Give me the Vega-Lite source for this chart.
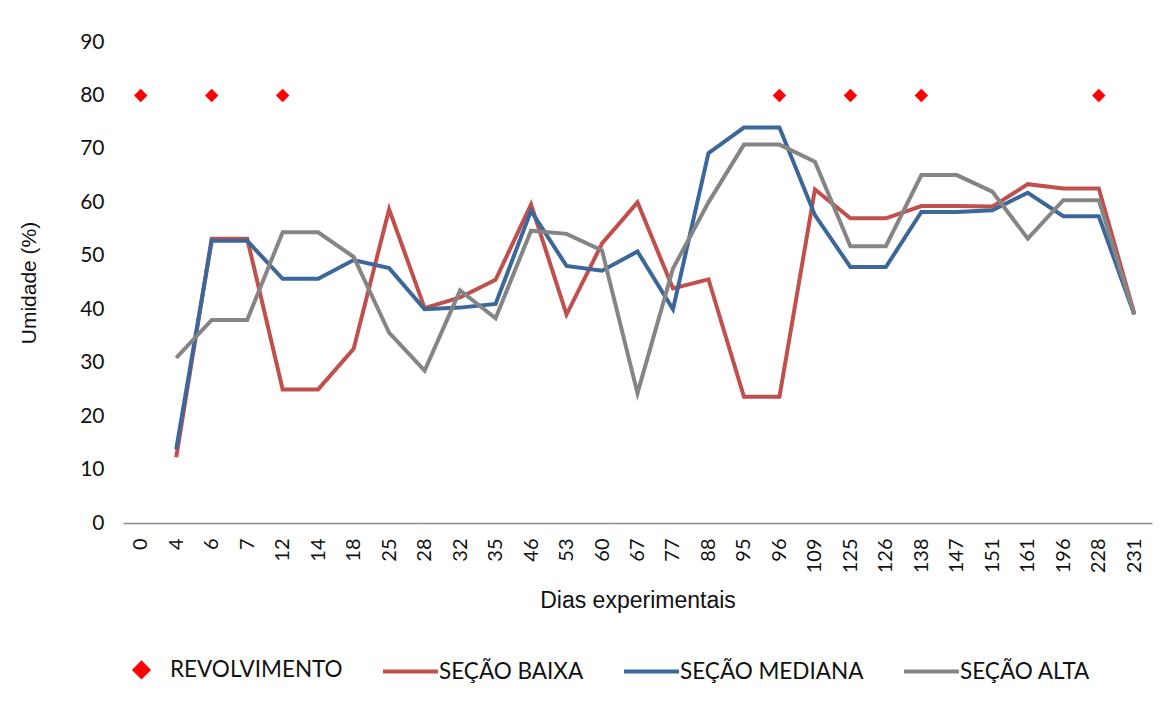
{
  "$schema": "https://vega.github.io/schema/vega-lite/v6.json",
  "autosize": "none",
  "width": 1029,
  "height": 481,
  "padding": {"left": 123, "top": 42, "right": 18, "bottom": 178},
  "background": "white",
  "config": {"view": {"stroke": null}, "font": "Lato"},
  "data": {
    "values": [
      {"dia": 0, "serie": "REVOLVIMENTO", "umidade": 80},
      {"dia": 6, "serie": "REVOLVIMENTO", "umidade": 80},
      {"dia": 12, "serie": "REVOLVIMENTO", "umidade": 80},
      {"dia": 96, "serie": "REVOLVIMENTO", "umidade": 80},
      {"dia": 125, "serie": "REVOLVIMENTO", "umidade": 80},
      {"dia": 138, "serie": "REVOLVIMENTO", "umidade": 80},
      {"dia": 228, "serie": "REVOLVIMENTO", "umidade": 80},

      {"dia": 4, "serie": "SEÇÃO BAIXA", "umidade": 12.3},
      {"dia": 6, "serie": "SEÇÃO BAIXA", "umidade": 53.2},
      {"dia": 7, "serie": "SEÇÃO BAIXA", "umidade": 53.2},
      {"dia": 12, "serie": "SEÇÃO BAIXA", "umidade": 25.0},
      {"dia": 14, "serie": "SEÇÃO BAIXA", "umidade": 25.0},
      {"dia": 18, "serie": "SEÇÃO BAIXA", "umidade": 32.6},
      {"dia": 25, "serie": "SEÇÃO BAIXA", "umidade": 58.7},
      {"dia": 28, "serie": "SEÇÃO BAIXA", "umidade": 40.2},
      {"dia": 32, "serie": "SEÇÃO BAIXA", "umidade": 42.2},
      {"dia": 35, "serie": "SEÇÃO BAIXA", "umidade": 45.5},
      {"dia": 46, "serie": "SEÇÃO BAIXA", "umidade": 59.6},
      {"dia": 53, "serie": "SEÇÃO BAIXA", "umidade": 39.0},
      {"dia": 60, "serie": "SEÇÃO BAIXA", "umidade": 52.3},
      {"dia": 67, "serie": "SEÇÃO BAIXA", "umidade": 60.0},
      {"dia": 77, "serie": "SEÇÃO BAIXA", "umidade": 43.9},
      {"dia": 88, "serie": "SEÇÃO BAIXA", "umidade": 45.6},
      {"dia": 95, "serie": "SEÇÃO BAIXA", "umidade": 23.6},
      {"dia": 96, "serie": "SEÇÃO BAIXA", "umidade": 23.6},
      {"dia": 109, "serie": "SEÇÃO BAIXA", "umidade": 62.4},
      {"dia": 125, "serie": "SEÇÃO BAIXA", "umidade": 57.0},
      {"dia": 126, "serie": "SEÇÃO BAIXA", "umidade": 57.0},
      {"dia": 138, "serie": "SEÇÃO BAIXA", "umidade": 59.3},
      {"dia": 147, "serie": "SEÇÃO BAIXA", "umidade": 59.3},
      {"dia": 151, "serie": "SEÇÃO BAIXA", "umidade": 59.2},
      {"dia": 161, "serie": "SEÇÃO BAIXA", "umidade": 63.4},
      {"dia": 196, "serie": "SEÇÃO BAIXA", "umidade": 62.6},
      {"dia": 228, "serie": "SEÇÃO BAIXA", "umidade": 62.6},
      {"dia": 231, "serie": "SEÇÃO BAIXA", "umidade": 39.2},

      {"dia": 4, "serie": "SEÇÃO MEDIANA", "umidade": 13.8},
      {"dia": 6, "serie": "SEÇÃO MEDIANA", "umidade": 52.8},
      {"dia": 7, "serie": "SEÇÃO MEDIANA", "umidade": 52.8},
      {"dia": 12, "serie": "SEÇÃO MEDIANA", "umidade": 45.7},
      {"dia": 14, "serie": "SEÇÃO MEDIANA", "umidade": 45.7},
      {"dia": 18, "serie": "SEÇÃO MEDIANA", "umidade": 49.2},
      {"dia": 25, "serie": "SEÇÃO MEDIANA", "umidade": 47.7},
      {"dia": 28, "serie": "SEÇÃO MEDIANA", "umidade": 40.0},
      {"dia": 32, "serie": "SEÇÃO MEDIANA", "umidade": 40.3},
      {"dia": 35, "serie": "SEÇÃO MEDIANA", "umidade": 41.0},
      {"dia": 46, "serie": "SEÇÃO MEDIANA", "umidade": 58.4},
      {"dia": 53, "serie": "SEÇÃO MEDIANA", "umidade": 48.1},
      {"dia": 60, "serie": "SEÇÃO MEDIANA", "umidade": 47.2},
      {"dia": 67, "serie": "SEÇÃO MEDIANA", "umidade": 50.8},
      {"dia": 77, "serie": "SEÇÃO MEDIANA", "umidade": 40.0},
      {"dia": 88, "serie": "SEÇÃO MEDIANA", "umidade": 69.2},
      {"dia": 95, "serie": "SEÇÃO MEDIANA", "umidade": 74.0},
      {"dia": 96, "serie": "SEÇÃO MEDIANA", "umidade": 74.0},
      {"dia": 109, "serie": "SEÇÃO MEDIANA", "umidade": 57.6},
      {"dia": 125, "serie": "SEÇÃO MEDIANA", "umidade": 47.9},
      {"dia": 126, "serie": "SEÇÃO MEDIANA", "umidade": 47.9},
      {"dia": 138, "serie": "SEÇÃO MEDIANA", "umidade": 58.2},
      {"dia": 147, "serie": "SEÇÃO MEDIANA", "umidade": 58.2},
      {"dia": 151, "serie": "SEÇÃO MEDIANA", "umidade": 58.5},
      {"dia": 161, "serie": "SEÇÃO MEDIANA", "umidade": 61.8},
      {"dia": 196, "serie": "SEÇÃO MEDIANA", "umidade": 57.4},
      {"dia": 228, "serie": "SEÇÃO MEDIANA", "umidade": 57.4},
      {"dia": 231, "serie": "SEÇÃO MEDIANA", "umidade": 39.0},

      {"dia": 4, "serie": "SEÇÃO ALTA", "umidade": 30.9},
      {"dia": 6, "serie": "SEÇÃO ALTA", "umidade": 38.0},
      {"dia": 7, "serie": "SEÇÃO ALTA", "umidade": 38.0},
      {"dia": 12, "serie": "SEÇÃO ALTA", "umidade": 54.4},
      {"dia": 14, "serie": "SEÇÃO ALTA", "umidade": 54.4},
      {"dia": 18, "serie": "SEÇÃO ALTA", "umidade": 49.8},
      {"dia": 25, "serie": "SEÇÃO ALTA", "umidade": 35.6},
      {"dia": 28, "serie": "SEÇÃO ALTA", "umidade": 28.5},
      {"dia": 32, "serie": "SEÇÃO ALTA", "umidade": 43.5},
      {"dia": 35, "serie": "SEÇÃO ALTA", "umidade": 38.3},
      {"dia": 46, "serie": "SEÇÃO ALTA", "umidade": 54.7},
      {"dia": 53, "serie": "SEÇÃO ALTA", "umidade": 54.1},
      {"dia": 60, "serie": "SEÇÃO ALTA", "umidade": 51.0},
      {"dia": 67, "serie": "SEÇÃO ALTA", "umidade": 24.3},
      {"dia": 77, "serie": "SEÇÃO ALTA", "umidade": 47.6},
      {"dia": 88, "serie": "SEÇÃO ALTA", "umidade": 60.0},
      {"dia": 95, "serie": "SEÇÃO ALTA", "umidade": 70.8},
      {"dia": 96, "serie": "SEÇÃO ALTA", "umidade": 70.8},
      {"dia": 109, "serie": "SEÇÃO ALTA", "umidade": 67.6},
      {"dia": 125, "serie": "SEÇÃO ALTA", "umidade": 51.8},
      {"dia": 126, "serie": "SEÇÃO ALTA", "umidade": 51.8},
      {"dia": 138, "serie": "SEÇÃO ALTA", "umidade": 65.1},
      {"dia": 147, "serie": "SEÇÃO ALTA", "umidade": 65.1},
      {"dia": 151, "serie": "SEÇÃO ALTA", "umidade": 62.0},
      {"dia": 161, "serie": "SEÇÃO ALTA", "umidade": 53.2},
      {"dia": 196, "serie": "SEÇÃO ALTA", "umidade": 60.4},
      {"dia": 228, "serie": "SEÇÃO ALTA", "umidade": 60.4},
      {"dia": 231, "serie": "SEÇÃO ALTA", "umidade": 39.0}
    ]
  },
  "encoding": {
    "x": {
      "field": "dia",
      "type": "ordinal",
      "scale": {"type": "point", "padding": 0.5},
      "axis": {
        "title": "Dias experimentais",
        "labelAngle": -90,
        "labelFont": "Lato",
        "labelFontSize": 20,
        "labelColor": "#111111",
        "labelPadding": 15,
        "ticks": false,
        "grid": false,
        "domainColor": "#8c8c8c",
        "domainWidth": 1.5,
        "titleFont": "Liberation Sans",
        "titleFontSize": 23,
        "titleFontWeight": "normal",
        "titleColor": "#111111",
        "titlePadding": 17
      }
    },
    "y": {
      "field": "umidade",
      "type": "quantitative",
      "scale": {"domain": [0, 90], "nice": false},
      "axis": {
        "title": "Umidade (%)",
        "values": [0, 10, 20, 30, 40, 50, 60, 70, 80, 90],
        "domain": false,
        "ticks": false,
        "grid": false,
        "labelFont": "Lato",
        "labelFontSize": 21,
        "labelColor": "#111111",
        "labelPadding": 19,
        "titleFont": "Liberation Sans",
        "titleFontSize": 21,
        "titleFontWeight": "normal",
        "titleColor": "#111111",
        "titlePadding": 40
      }
    },
    "color": {
      "field": "serie",
      "type": "nominal",
      "scale": {
        "domain": ["REVOLVIMENTO", "SEÇÃO BAIXA", "SEÇÃO MEDIANA", "SEÇÃO ALTA"],
        "range": ["#ff0000", "#c0504d", "#3c679a", "#858585"]
      },
      "legend": {
        "orient": "none",
        "direction": "horizontal",
        "legendX": -11,
        "legendY": 598,
        "title": null,
        "padding": 0,
        "labelFont": "Lato",
        "labelFontSize": 22.5,
        "labelColor": "#111111",
        "labelLimit": 0,
        "labelOffset": -1,
        "columnPadding": 32,
        "symbolSize": 3025,
        "symbolType": "stroke",
        "symbolStrokeWidth": 4,
        "encode": {
          "symbols": {
            "update": {
              "shape": {"signal": "datum.value === 'REVOLVIMENTO' ? 'diamond' : 'stroke'"},
              "size": {"signal": "datum.value === 'REVOLVIMENTO' ? 180 : 3025"},
              "fill": {"signal": "datum.value === 'REVOLVIMENTO' ? scale('color', datum.value) : 'transparent'"},
              "stroke": {"signal": "datum.value === 'REVOLVIMENTO' ? 'transparent' : scale('color', datum.value)"},
              "strokeWidth": {"value": 4},
              "opacity": {"value": 1}
            }
          }
        }
      }
    }
  },
  "layer": [
    {
      "transform": [{"filter": "datum.serie !== 'REVOLVIMENTO'"}],
      "mark": {"type": "line", "strokeWidth": 4}
    },
    {
      "transform": [{"filter": "datum.serie === 'REVOLVIMENTO'"}],
      "mark": {"type": "point", "shape": "diamond", "filled": true, "size": 180, "opacity": 1}
    }
  ]
}
